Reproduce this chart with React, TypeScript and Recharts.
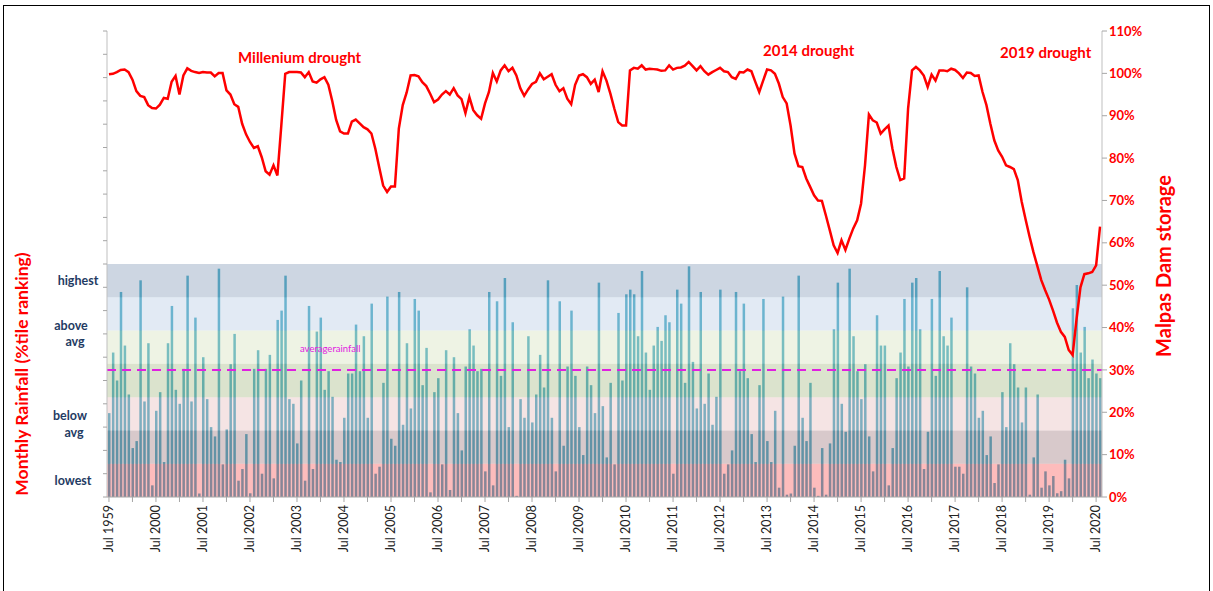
import React from 'react';
import { ComposedChart, Bar, Line, XAxis, YAxis, ReferenceArea, ReferenceLine } from 'recharts';

// monthly series, Jul 1999 .. Aug 2020
const START_YEAR = 1999;
const MONTHS = ['Jan', 'Feb', 'Mar', 'Apr', 'May', 'Jun', 'Jul', 'Aug', 'Sep', 'Oct', 'Nov', 'Dec'];

// monthly rainfall, percentile ranking (0-100, drawn on a 0-200 axis)
const rainfallPct = [
  36, 62, 50, 88, 65, 44, 21, 24, 93, 41, 66, 5, 37, 45, 15, 66, 82, 46, 40, 55,
  95, 41, 77, 1.5, 60, 42, 30, 26, 98, 14, 29, 57, 70, 7, 12, 27, 1.6, 55, 63, 10,
  55, 61, 8, 76, 80, 95, 42, 40, 23, 50, 7, 82, 12, 71, 77, 46, 54, 43, 16, 15,
  34, 53, 53, 74, 54, 69, 34, 83, 10, 13, 49, 86, 25, 22, 88, 31, 66, 38, 85, 80,
  48, 64, 2, 45, 51, 14, 63, 3, 60, 36, 20, 56, 72, 65, 54, 55, 11, 88, 5, 84,
  52, 94, 30, 75, 0.5, 42, 34, 69, 32, 44, 61, 47, 93, 34, 11, 84, 22, 56, 80, 52,
  30, 18, 56, 48, 36, 92, 39, 17, 49, 14, 79, 50, 87, 89, 87, 69, 97, 62, 46, 65,
  73, 67, 78, 75, 10, 89, 83, 49, 99, 58, 38, 88, 40, 53, 31, 43, 89, 10, 14, 20,
  88, 54, 83, 51, 27, 15, 48, 85, 24, 15, 37, 4, 86, 1, 1.5, 22, 95, 34, 24, 49,
  4, 0.5, 21, 1, 23, 72, 92, 40, 28, 98, 69, 54, 42, 57, 26, 11, 78, 65, 65, 5,
  21, 51, 62, 85, 56, 92, 94, 72, 12, 28, 85, 52, 97, 69, 65, 77, 13, 13, 10, 90,
  56, 53, 34, 37, 18, 26, 6, 14, 45, 30, 66, 57, 47, 32, 47, 1, 17, 44, 4, 11,
  5, 9, 1.6, 2.5, 16, 8, 81, 91, 62, 73, 51, 59, 53, 51,
];

// Malpas Dam storage, % full
const damStorage = [
  99.8, 99.9, 100.3, 100.8, 100.9, 100.3, 98.5, 95.8, 94.7, 94.4, 92.5, 91.8, 91.7, 92.6, 94.2, 94.0, 98.0, 99.4, 95.0, 99.5,
  101.2, 100.6, 100.3, 100.1, 100.3, 100.2, 100.2, 99.3, 100.1, 100.1, 96.0, 95.0, 92.7, 92.1, 88.1, 85.6, 83.8, 82.4, 82.8, 80.2,
  76.9, 76.1, 78.3, 75.9, 87.7, 99.9, 100.3, 100.3, 100.3, 100.2, 99.1, 100.3, 98.1, 97.8, 98.6, 99.1, 97.3, 93.5, 89.0, 86.3,
  85.8, 85.8, 88.6, 89.1, 88.2, 87.3, 86.8, 85.8, 82.2, 77.8, 73.5, 72.0, 73.3, 73.3, 87.0, 92.5, 95.5, 99.5, 99.6, 99.3,
  97.9, 97.0, 95.2, 93.2, 93.8, 95.0, 95.8, 95.0, 96.5, 94.8, 93.9, 90.6, 94.4, 91.3, 90.1, 89.3, 92.9, 95.6, 100.1, 98.1,
  100.7, 101.9, 100.5, 101.3, 99.5, 96.5, 94.7, 96.2, 97.5, 98.0, 100.0, 98.6, 99.2, 99.8, 97.3, 95.8, 96.5, 94.0, 92.7, 97.3,
  99.5, 99.8, 99.1, 97.5, 98.5, 95.6, 100.5, 98.3, 95.2, 91.7, 88.5, 87.7, 87.7, 100.7, 101.3, 101.1, 101.9, 100.9, 101.1, 101.0,
  100.9, 100.6, 100.7, 101.9, 100.9, 101.3, 101.4, 101.8, 102.7, 101.7, 100.7, 101.7, 100.5, 99.7, 100.3, 100.8, 101.3, 100.5, 100.3, 99.1,
  98.7, 100.3, 100.2, 100.9, 100.5, 98.0, 95.6, 98.3, 100.9, 100.7, 99.9, 97.6, 94.4, 92.9, 87.7, 81.1, 78.1, 77.9, 75.2, 73.2,
  71.2, 70.0, 69.9, 66.5, 63.0, 59.4, 57.6, 60.6, 58.3, 61.0, 63.4, 65.3, 69.3, 78.3, 90.3, 88.9, 88.4, 85.8, 86.8, 87.7,
  82.2, 77.9, 74.8, 75.2, 91.7, 100.7, 101.5, 100.7, 99.5, 96.8, 99.7, 98.3, 100.7, 100.7, 100.5, 101.1, 100.8, 100.0, 98.9, 100.2,
  100.1, 99.4, 99.5, 95.6, 92.5, 88.1, 84.2, 81.8, 80.3, 78.3, 77.9, 77.4, 74.8, 69.7, 65.5, 61.5, 57.8, 54.5, 51.2, 48.8,
  46.6, 44.0, 41.2, 39.0, 37.8, 34.7, 33.5, 42.0, 49.5, 52.6, 52.8, 53.1, 54.7, 63.8,
];

const yearLabels = [
  'Jul 1959', 'Jul 2000', 'Jul 2001', 'Jul 2002', 'Jul 2003', 'Jul 2004', 'Jul 2005', 'Jul 2006',
  'Jul 2007', 'Jul 2008', 'Jul 2009', 'Jul 2010', 'Jul 2011', 'Jul 2012', 'Jul 2013', 'Jul 2014',
  'Jul 2015', 'Jul 2016', 'Jul 2017', 'Jul 2018', 'Jul 2019', 'Jul 2020',
];

// rainfall bands, lowest -> highest (7 equal percentile bands)
const bandEdges = [0, 14.29, 28.57, 42.86, 57.14, 71.43, 85.71, 100];
const bandColors = ['#f94040', '#90656b', '#e2b2b2', '#98af70', '#ceddb2', '#acc3e0', '#708aac'];

const AVG_RAIN = 54.5;
const storageTicks = [0, 10, 20, 30, 40, 50, 60, 70, 80, 90, 100, 110];
const rainTicks = [0, 10, 20, 30, 40, 50, 60, 70, 80, 90, 100, 110, 120, 130, 140, 150, 160, 170, 180, 190, 200];

const data = rainfallPct.map((rain, i) => {
  const m = 6 + i;
  return {
    month: `${MONTHS[m % 12]} ${START_YEAR + Math.floor(m / 12)}`,
    rain,
    storage: damStorage[i],
  };
});

const FONT = 'Lato, "Open Sans", sans-serif';

function MonthTick(props: any) {
  const { x, y, payload } = props;
  const [mon, yr] = String(payload.value).split(' ');
  if (mon !== 'Jul') return null;
  const label = yearLabels[Number(yr) - START_YEAR];
  return (
    <text
      x={x}
      y={y + 1}
      dy="0.35em"
      transform={`rotate(-90, ${x}, ${y + 1})`}
      textAnchor="end"
      fontSize={12.5}
      fontFamily={FONT}
      fill="#222"
    >
      {label}
    </text>
  );
}

// left axis shows tick marks only
const NoLabel = () => <g />;

const abs = (left: number, top: number, extra: React.CSSProperties = {}): React.CSSProperties => ({
  position: 'absolute',
  left,
  top,
  whiteSpace: 'nowrap',
  fontFamily: FONT,
  fontWeight: 700,
  lineHeight: 1,
  ...extra,
});

const bandLabel = { color: '#1f3b63', fontSize: 12.5, textAlign: 'center' as const, width: 60 };

export default function App() {
  return (
    <div style={{ position: 'absolute', left: 0, top: 0, width: 1213, height: 591, background: '#fff', overflow: 'hidden' }}>
      <div style={{ position: 'absolute', left: 3, top: 5, width: 1205, height: 600, border: '1px solid #000' }} />
      <ComposedChart
        width={1213}
        height={591}
        data={data}
        margin={{ top: 31, right: 51, bottom: 34, left: 99 }}
        barCategoryGap={0}
      >
        <XAxis
          dataKey="month"
          interval={5}
          tick={<MonthTick />}
          tickSize={5}
          tickLine={{ stroke: '#a6a6a6' }}
          axisLine={{ stroke: '#a6a6a6' }}
          height={60}
        />
        <YAxis
          yAxisId="rain"
          domain={[0, 200]}
          ticks={rainTicks}
          tick={<NoLabel />}
          tickSize={4}
          tickLine={{ stroke: '#a6a6a6' }}
          axisLine={{ stroke: '#bfbfbf' }}
          width={8}
        />
        <YAxis
          yAxisId="storage"
          orientation="right"
          domain={[0, 110]}
          ticks={storageTicks}
          tickFormatter={(v: number) => `${v}%`}
          tick={{ fill: '#ff0000', fontSize: 13, fontWeight: 700, fontFamily: FONT }}
          tickSize={5}
          tickLine={{ stroke: '#a6a6a6' }}
          axisLine={{ stroke: '#bfbfbf' }}
          width={60}
        />
        <Bar yAxisId="rain" dataKey="rain" fill="#4bacc6" barSize={2.5} isAnimationActive={false} />
        {bandColors.map((c, i) => (
          <ReferenceArea
            key={i}
            yAxisId="rain"
            y1={bandEdges[i]}
            y2={bandEdges[i + 1]}
            fill={c}
            fillOpacity={0.35}
            stroke="none"
            {...({ zIndex: 350 } as any)}
          />
        ))}
        <ReferenceLine
          yAxisId="rain"
          y={AVG_RAIN}
          stroke="#e020e0"
          strokeWidth={2}
          strokeDasharray="9 6"
        />
        <Line
          yAxisId="storage"
          type="linear"
          dataKey="storage"
          stroke="#ff0000"
          strokeWidth={2.5}
          dot={false}
          isAnimationActive={false}
        />
      </ComposedChart>

      <div style={abs(238, 50, { color: '#ff0000', fontSize: 15 })}>Millenium drought</div>
      <div style={abs(763, 43, { color: '#ff0000', fontSize: 15 })}>2014 drought</div>
      <div style={abs(1000, 45, { color: '#ff0000', fontSize: 15 })}>2019 drought</div>
      <div style={abs(300, 344, { color: '#e020e0', fontSize: 9.5, fontWeight: 400 })}>averagerainfall</div>

      <div style={abs(48, 275, bandLabel)}>highest</div>
      <div style={abs(41, 320, bandLabel)}>above</div>
      <div style={abs(45, 336, bandLabel)}>avg</div>
      <div style={abs(40, 410, bandLabel)}>below</div>
      <div style={abs(44, 427, bandLabel)}>avg</div>
      <div style={abs(43, 475, bandLabel)}>lowest</div>

      <div
        style={abs(22, 374, {
          color: '#ff0000',
          fontSize: 17.5,
          transform: 'translate(-50%, -50%) rotate(-90deg)',
        })}
      >
        Monthly Rainfall (%tile ranking)
      </div>
      <div
        style={abs(1163, 266, {
          color: '#ff0000',
          fontSize: 20,
          transform: 'translate(-50%, -50%) rotate(-90deg)',
        })}
      >
        Malpas Dam storage
      </div>
    </div>
  );
}
